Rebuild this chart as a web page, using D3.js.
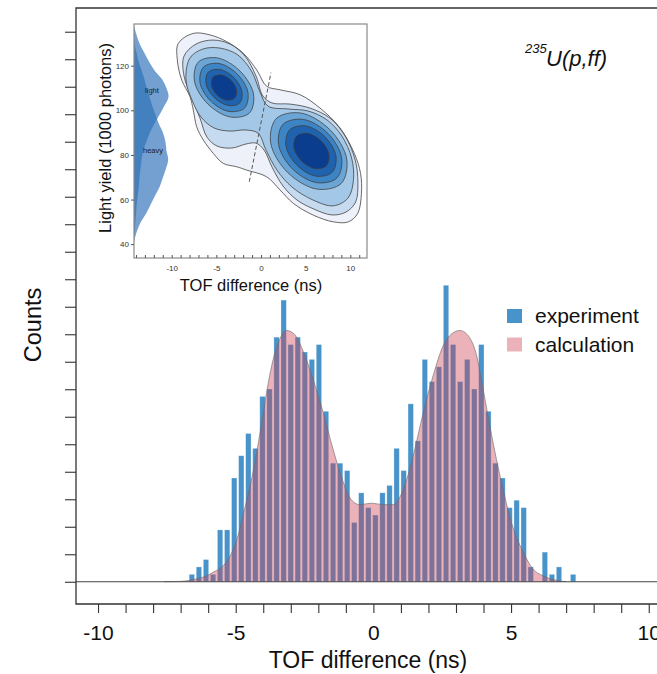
<!DOCTYPE html>
<html>
  <head>
    <meta charset="UTF-8">
    <style>
      body {
        margin: 0;
        background: white;
        font-family: "Liberation Sans", Arial, Helvetica, sans-serif;
      }

      svg {
        display: block;
      }
    </style>
    <script src="https://d3js.org/d3.v7.min.js"></script>
  </head>

  <body>
    <svg id="tof-chart"></svg>

    <script type="text/javascript">
      // experiment histogram: bin centres start at binStart (ns), one count per bin
      let binStart = -6.592
      let binWidth = 0.2564
      let experimentCounts = [1, 2, 3, 1, 7, 7, 14, 17, 20, 18, 25, 26, 33, 38, 32, 33, 31, 30,
        32, 23, 16, 16, 15, 8, 12, 10, 9, 12, 13, 18, 15, 24, 19, 30, 27, 29, 40, 32, 27, 30,
        26, 32, 23, 16, 14, 10, 11, 10, 2, 0, 4, 1, 2, 0, 1]

      // calculation curve (ns, counts)
      let calcX = [-7.6, -7.0, -6.66, -6.3, -6.05, -5.81, -5.57, -5.21, -4.91, -4.73, -4.36,
        -4.12, -3.88, -3.64, -3.39, -3.15, -2.85, -2.55, -2.19, -1.82, -1.46, -1.1, -0.85,
        -0.49, -0.07, 0.36, 0.72, 1.08, 1.44, 1.81, 2.17, 2.53, 2.9, 3.14, 3.5, 3.75, 3.99,
        4.23, 4.47, 4.71, 4.95, 5.2, 5.44, 5.8, 6.16, 6.65, 7.0]
      let calcY = [0, 0.05, 0.2, 0.5, 0.8, 1.3, 1.8, 3.4, 6.3, 9.0, 15.0, 20.0, 25.5, 30.0,
        32.8, 33.9, 33.3, 31.1, 27.3, 22.8, 17.8, 13.5, 11.3, 10.4, 10.6, 10.4, 10.4, 12.4,
        16.9, 22.8, 27.8, 31.8, 33.6, 33.9, 32.9, 30.5, 25.9, 21.0, 16.5, 12.5, 8.8, 6.0,
        4.0, 1.7, 0.8, 0.2, 0]

      let xTicks = d3.range(-10, 11)
      let xTickLabels = [-10, -5, 0, 5, 10]
      let countTickStep = 3.71
      let countTicks = d3.range(0, 21).map(i => i * countTickStep)

      let legendItems = ['experiment', 'calculation']

      // inset: 2D light yield vs TOF difference, contour outlines (ns, 1000 photons)
      let outerContour = [[-9.26, 130.0], [-7.58, 134.5], [-5.71, 133.8], [-3.84, 130.8],
        [-1.98, 125.6], [-0.48, 118.1], [0.64, 110.8], [2.13, 109.2], [4.37, 107.0],
        [6.61, 101.0], [8.85, 92.1], [10.45, 80.7], [11.15, 71.7], [11.25, 62.8], [10.83, 53.8],
        [9.78, 50.0], [8.1, 50.0], [5.86, 53.0], [3.62, 58.3], [2.13, 64.3], [0.64, 70.2],
        [-1.6, 73.2], [-2.72, 74.7], [-4.22, 76.2], [-5.34, 80.7], [-6.46, 86.7], [-7.2, 92.6],
        [-7.58, 100.1], [-7.95, 106.1], [-8.88, 113.6], [-9.37, 122.6]]

      let secondContour = [[-8.62, 124.3], [-7.28, 129.7], [-5.38, 131.5], [-3.47, 129.7],
        [-1.79, 124.3], [-0.56, 115.4], [0.22, 106.4], [1.23, 103.3], [3.25, 102.8],
        [5.49, 101.0], [7.73, 96.5], [9.41, 88.5], [10.55, 77.7], [10.85, 67.9], [10.6, 58.9],
        [9.52, 54.4], [7.95, 53.1], [5.94, 55.7], [4.03, 59.8], [2.46, 66.1], [1.23, 74.6],
        [0.34, 82.2], [-0.56, 85.3], [-1.68, 84.9], [-3.25, 83.1], [-4.93, 84.0], [-6.05, 88.0],
        [-6.83, 96.5], [-7.73, 105.5], [-8.62, 115.4]]

      let thirdContour = [[-7.95, 123.5], [-6.49, 127.5], [-4.59, 127.9], [-2.58, 124.8],
        [-1.01, 117.2], [-0.11, 108.2], [0.78, 101.9], [3.02, 100.6], [5.26, 99.7],
        [7.39, 95.7], [9.05, 88.5], [10.15, 78.6], [10.35, 68.7], [9.75, 60.7], [8.1, 57.2],
        [5.82, 59.8], [3.47, 65.6], [1.79, 73.2], [0.56, 82.2], [-0.34, 89.8], [-1.79, 91.2],
        [-3.47, 90.7], [-5.26, 92.1], [-6.72, 97.0], [-7.73, 104.6], [-8.4, 113.6]]

      let lightPeakRings = [
        [[-1.29, 98.8], [-0.84, 107.3], [-2.32, 117.5], [-4.87, 123.5], [-7.0, 121.7],
          [-7.45, 113.1], [-5.97, 102.9], [-3.42, 97.0]],
        [[-1.85, 101.0], [-1.46, 108.0], [-2.64, 116.2], [-4.7, 121.0], [-6.44, 119.4],
          [-6.83, 112.5], [-5.64, 104.2], [-3.58, 99.5]],
        [[-2.4, 103.2], [-2.13, 108.4], [-3.03, 114.7], [-4.59, 118.3], [-5.89, 117.2],
          [-6.16, 112.0], [-5.25, 105.8], [-3.7, 102.2]],
        [[-2.96, 105.5], [-2.74, 109.1], [-3.35, 113.4], [-4.42, 115.8], [-5.33, 115.0],
          [-5.54, 111.3], [-4.94, 107.0], [-3.86, 104.6]]
      ]

      let heavyPeakRings = [
        [[8.98, 67.2], [9.6, 78.2], [7.72, 91.3], [4.45, 98.8], [1.71, 96.3], [1.09, 85.3],
          [2.97, 72.2], [6.24, 64.7]],
        [[8.51, 69.7], [9.02, 78.8], [7.48, 89.7], [4.77, 95.9], [2.48, 93.8], [1.97, 84.7],
          [3.51, 73.8], [6.22, 67.6]],
        [[7.97, 72.2], [8.39, 79.5], [7.17, 88.1], [5.04, 93.0], [3.22, 91.3], [2.8, 84.0],
          [4.02, 75.4], [6.16, 70.5]],
        [[7.31, 75.1], [7.6, 80.2], [6.75, 86.2], [5.25, 89.6], [3.98, 88.4], [3.69, 83.3],
          [4.54, 77.3], [6.04, 73.9]]
      ]

      let dividerLine = [[-1.31, 68.0], [1.12, 116.9]]

      // inset: light yield projections of the light and heavy fragments
      let projectionYield = [138, 134, 130, 126, 122, 118, 114, 110, 106, 102, 98, 94, 90, 86,
        82, 78, 74, 70, 66, 62, 58, 54, 50, 46, 42, 40]
      let lightProjection = [0, 0.07, 0.16, 0.29, 0.43, 0.59, 0.81, 0.94, 1.0, 0.88, 0.74, 0.59,
        0.46, 0.36, 0.27, 0.22, 0.19, 0.16, 0.14, 0.11, 0.08, 0.06, 0.04, 0.02, 0, 0]
      let heavyProjection = [0, 0, 0.015, 0.07, 0.13, 0.22, 0.3, 0.37, 0.45, 0.53, 0.62, 0.72,
        0.84, 0.91, 0.94, 0.99, 0.93, 0.84, 0.75, 0.62, 0.49, 0.36, 0.2, 0.09, 0.015, 0]

      let insetXTicks = d3.range(-14, 12)
      let insetXLabels = [-10, -5, 0, 5, 10]
      let insetYLabels = [40, 60, 80, 100, 120]

      let blue = '#4893ca'
      let pink = '#cc4050'
      let pinkOpacity = 0.4
      let contourColors = ['#eef1fa', '#c6dbef', '#a3c8e7', '#6aa5d6', '#3d84c4', '#1f62ad', '#0b3d8f']

      function getConfig() {
        let width = 657
        let height = 674
        let frame = {left: 76, top: 8, bottom: 604}
        let container = d3.select('#tof-chart')
          .attr('width', width)
          .attr('height', height)
        return {width, height, frame, container}
      }

      function getScales(config) {
        let {width, frame} = config
        let x = d3.scaleLinear()
          .domain([-10.8, 10.3])
          .range([frame.left, width])
        let y = d3.scaleLinear()
          .domain([-3, 77.4])
          .range([frame.bottom, frame.top])
        return {x, y}
      }

      function drawBars(scales, config) {
        let {x, y} = scales
        let bins = experimentCounts.map((c, i) => ({center: binStart + i * binWidth, count: c}))
        let barWidth = (x(binWidth) - x(0)) * 0.76

        config.container.append('g')
          .selectAll('rect')
          .data(bins.filter(d => d.count > 0))
          .enter()
          .append('rect')
          .attr('x', d => x(d.center) - barWidth / 2)
          .attr('y', d => y(d.count))
          .attr('width', barWidth)
          .attr('height', d => y(0) - y(d.count))
          .attr('fill', blue)
          .attr('stroke', 'rgba(255,255,255,0.4)')
          .attr('stroke-width', 0.7)
      }

      function drawCalculation(scales, config) {
        let {x, y} = scales
        let points = calcX.map((v, i) => ({x: v, y: calcY[i]}))

        let area = d3.area()
          .x(d => x(d.x))
          .y0(y(0))
          .y1(d => y(d.y))
          .curve(d3.curveMonotoneX)

        let line = d3.line()
          .x(d => x(d.x))
          .y(d => y(d.y))
          .curve(d3.curveMonotoneX)

        config.container.append('path')
          .datum(points)
          .attr('d', area)
          .attr('fill', pink)
          .attr('fill-opacity', pinkOpacity)

        config.container.append('path')
          .datum(points)
          .attr('d', line)
          .attr('fill', 'none')
          .attr('stroke', '#6a6a6a')
          .attr('stroke-opacity', 0.7)
          .attr('stroke-width', 0.9)
      }

      function drawAxes(scales, config) {
        let {x, y} = scales
        let {container, frame, width, height} = config

        // zero line
        container.append('line')
          .attr('x1', frame.left)
          .attr('x2', width)
          .attr('y1', y(0))
          .attr('y2', y(0))
          .attr('stroke', '#444')
          .attr('stroke-width', 1.1)

        container.append('path')
          .attr('d', `M${width},${frame.top}H${frame.left}V${frame.bottom}H${width}`)
          .attr('fill', 'none')
          .attr('stroke', '#333')
          .attr('stroke-width', 1.3)

        let axisX = d3.axisBottom(x)
          .tickValues(xTicks)
          .tickSize(9)
          .tickPadding(12)
          .tickFormat(d => xTickLabels.includes(d) ? String(d) : '')

        let gx = container.append('g')
          .attr('transform', `translate(0, ${frame.bottom})`)
          .call(axisX)
        gx.select('.domain').remove()
        gx.selectAll('line').attr('stroke', '#333').attr('stroke-width', 1.1)
        gx.selectAll('text')
          .attr('font-size', 21)
          .attr('font-family', '"Liberation Sans", Arial, sans-serif')
          .attr('fill', '#111')

        let axisY = d3.axisLeft(y)
          .tickValues(countTicks)
          .tickSize(11)
          .tickFormat('')

        let gy = container.append('g')
          .attr('transform', `translate(${frame.left}, 0)`)
          .call(axisY)
        gy.select('.domain').remove()
        gy.selectAll('line').attr('stroke', '#333').attr('stroke-width', 1.1)

        container.append('text')
          .attr('x', 368)
          .attr('y', height - 6)
          .attr('text-anchor', 'middle')
          .attr('font-size', 23)
          .attr('fill', '#111')
          .text('TOF difference (ns)')

        container.append('text')
          .attr('transform', `translate(41, 325) rotate(-90)`)
          .attr('text-anchor', 'middle')
          .attr('font-size', 23.5)
          .attr('fill', '#111')
          .text('Counts')
      }

      function drawLegend(config) {
        let {container} = config
        let legend = container.selectAll('.legend')
          .data(legendItems)
          .enter()
          .append('g')
          .attr('class', 'legend')
          .attr('transform', (d, i) => `translate(507, ${309 + i * 28.5})`)

        legend.append('rect')
          .attr('width', 15)
          .attr('height', 14)
          .attr('fill', (d, i) => i === 0 ? blue : pink)
          .attr('fill-opacity', (d, i) => i === 0 ? 1 : pinkOpacity)

        legend.append('text')
          .attr('x', 28)
          .attr('y', 14)
          .attr('font-size', 21)
          .attr('fill', '#111')
          .text(d => d)

        container.append('text')
          .attr('x', 525)
          .attr('y', 53)
          .attr('font-size', 13)
          .attr('font-style', 'italic')
          .attr('fill', '#111')
          .text('235')

        container.append('text')
          .attr('x', 546)
          .attr('y', 66)
          .attr('font-size', 22)
          .attr('font-style', 'italic')
          .attr('fill', '#111')
          .text('U(p,ff)')
      }

      function drawInset(config) {
        let {container} = config
        let box = {left: 134, right: 367, top: 24, bottom: 258}

        let xIn = d3.scaleLinear().domain([-14.22, 11.87]).range([box.left, box.right])
        let yIn = d3.scaleLinear().domain([33.8, 138.7]).range([box.bottom, box.top])
        let projScale = d3.scaleLinear().domain([0, 1]).range([box.left, box.left + 34.5])

        let inset = container.append('g')

        inset.append('clipPath')
          .attr('id', 'inset-clip')
          .append('rect')
          .attr('x', box.left)
          .attr('y', box.top)
          .attr('width', box.right - box.left)
          .attr('height', box.bottom - box.top)

        inset.append('rect')
          .attr('x', box.left)
          .attr('y', box.top)
          .attr('width', box.right - box.left)
          .attr('height', box.bottom - box.top)
          .attr('fill', 'white')

        let body = inset.append('g').attr('clip-path', 'url(#inset-clip)')

        // contours
        let ring = d3.line()
          .x(d => xIn(d[0]))
          .y(d => yIn(d[1]))
          .curve(d3.curveCatmullRomClosed.alpha(0.5))

        let shapes = [
          {pts: outerContour, level: 0},
          {pts: secondContour, level: 1},
          {pts: thirdContour, level: 2}
        ]
        lightPeakRings.forEach((p, i) => shapes.push({pts: p, level: i + 3}))
        heavyPeakRings.forEach((p, i) => shapes.push({pts: p, level: i + 3}))

        body.selectAll('.contour')
          .data(shapes)
          .enter()
          .append('path')
          .attr('class', 'contour')
          .attr('d', d => ring(d.pts))
          .attr('fill', d => contourColors[d.level])
          .attr('stroke', '#3c3c3c')
          .attr('stroke-opacity', 0.85)
          .attr('stroke-width', 0.9)

        body.append('path')
          .attr('d', d3.line().x(d => xIn(d[0])).y(d => yIn(d[1]))(dividerLine))
          .attr('stroke', '#555')
          .attr('stroke-width', 1)
          .attr('stroke-dasharray', '4,2.5')
          .attr('fill', 'none')

        // projections
        let proj = key => d3.area()
          .y(d => yIn(d.ly))
          .x0(projScale(0))
          .x1(d => projScale(d[key]))
          .curve(d3.curveCatmullRom)

        let projData = projectionYield.map((ly, i) => ({
          ly: ly, light: lightProjection[i], heavy: heavyProjection[i]
        }))

        ;['light', 'heavy'].forEach(key => {
          body.append('path')
            .datum(projData)
            .attr('d', proj(key))
            .attr('fill', '#2a6fb8')
            .attr('fill-opacity', 0.66)
        })

        body.append('text')
          .attr('x', 152)
          .attr('y', 93)
          .attr('text-anchor', 'middle')
          .attr('font-size', 7.5)
          .attr('fill', '#1a1a1a')
          .text('light')

        body.append('text')
          .attr('x', 153)
          .attr('y', 153)
          .attr('text-anchor', 'middle')
          .attr('font-size', 7.5)
          .attr('fill', '#1a1a1a')
          .text('heavy')

        inset.append('rect')
          .attr('x', box.left)
          .attr('y', box.top)
          .attr('width', box.right - box.left)
          .attr('height', box.bottom - box.top)
          .attr('fill', 'none')
          .attr('stroke', '#8a8a8a')
          .attr('stroke-width', 1.2)

        // inset axes
        let minorX = inset.append('g')
          .attr('transform', `translate(0, ${box.bottom})`)
          .call(d3.axisBottom(xIn).tickValues(insetXTicks).tickSize(-3).tickFormat(''))
        minorX.select('.domain').remove()
        minorX.selectAll('line').attr('stroke', '#555')

        let labelX = inset.append('g')
          .attr('transform', `translate(0, ${box.bottom})`)
          .call(d3.axisBottom(xIn).tickValues(insetXLabels).tickSize(0).tickPadding(7)
            .tickFormat(d => String(d)))
        labelX.select('.domain').remove()
        labelX.selectAll('text').attr('font-size', 8).attr('fill', '#333')
          .attr('font-family', '"Liberation Sans", Arial, sans-serif')

        let labelY = inset.append('g')
          .attr('transform', `translate(${box.left}, 0)`)
          .call(d3.axisLeft(yIn).tickValues(insetYLabels).tickSize(3).tickPadding(2)
            .tickFormat(d => String(d)))
        labelY.select('.domain').remove()
        labelY.selectAll('line').attr('stroke', '#555')
        labelY.selectAll('text').attr('font-size', 8).attr('fill', '#333')
          .attr('font-family', '"Liberation Sans", Arial, sans-serif')

        inset.append('text')
          .attr('x', 251)
          .attr('y', 291)
          .attr('text-anchor', 'middle')
          .attr('font-size', 16.5)
          .attr('fill', '#111')
          .text('TOF difference (ns)')

        inset.append('text')
          .attr('transform', 'translate(111, 138) rotate(-90)')
          .attr('text-anchor', 'middle')
          .attr('font-size', 16.5)
          .attr('fill', '#111')
          .text('Light yield (1000 photons)')
      }

      function drawChart() {
        let config = getConfig()
        let scales = getScales(config)
        drawBars(scales, config)
        drawCalculation(scales, config)
        drawAxes(scales, config)
        drawLegend(config)
        drawInset(config)
      }

      drawChart()
    </script>
  </body>
</html>
